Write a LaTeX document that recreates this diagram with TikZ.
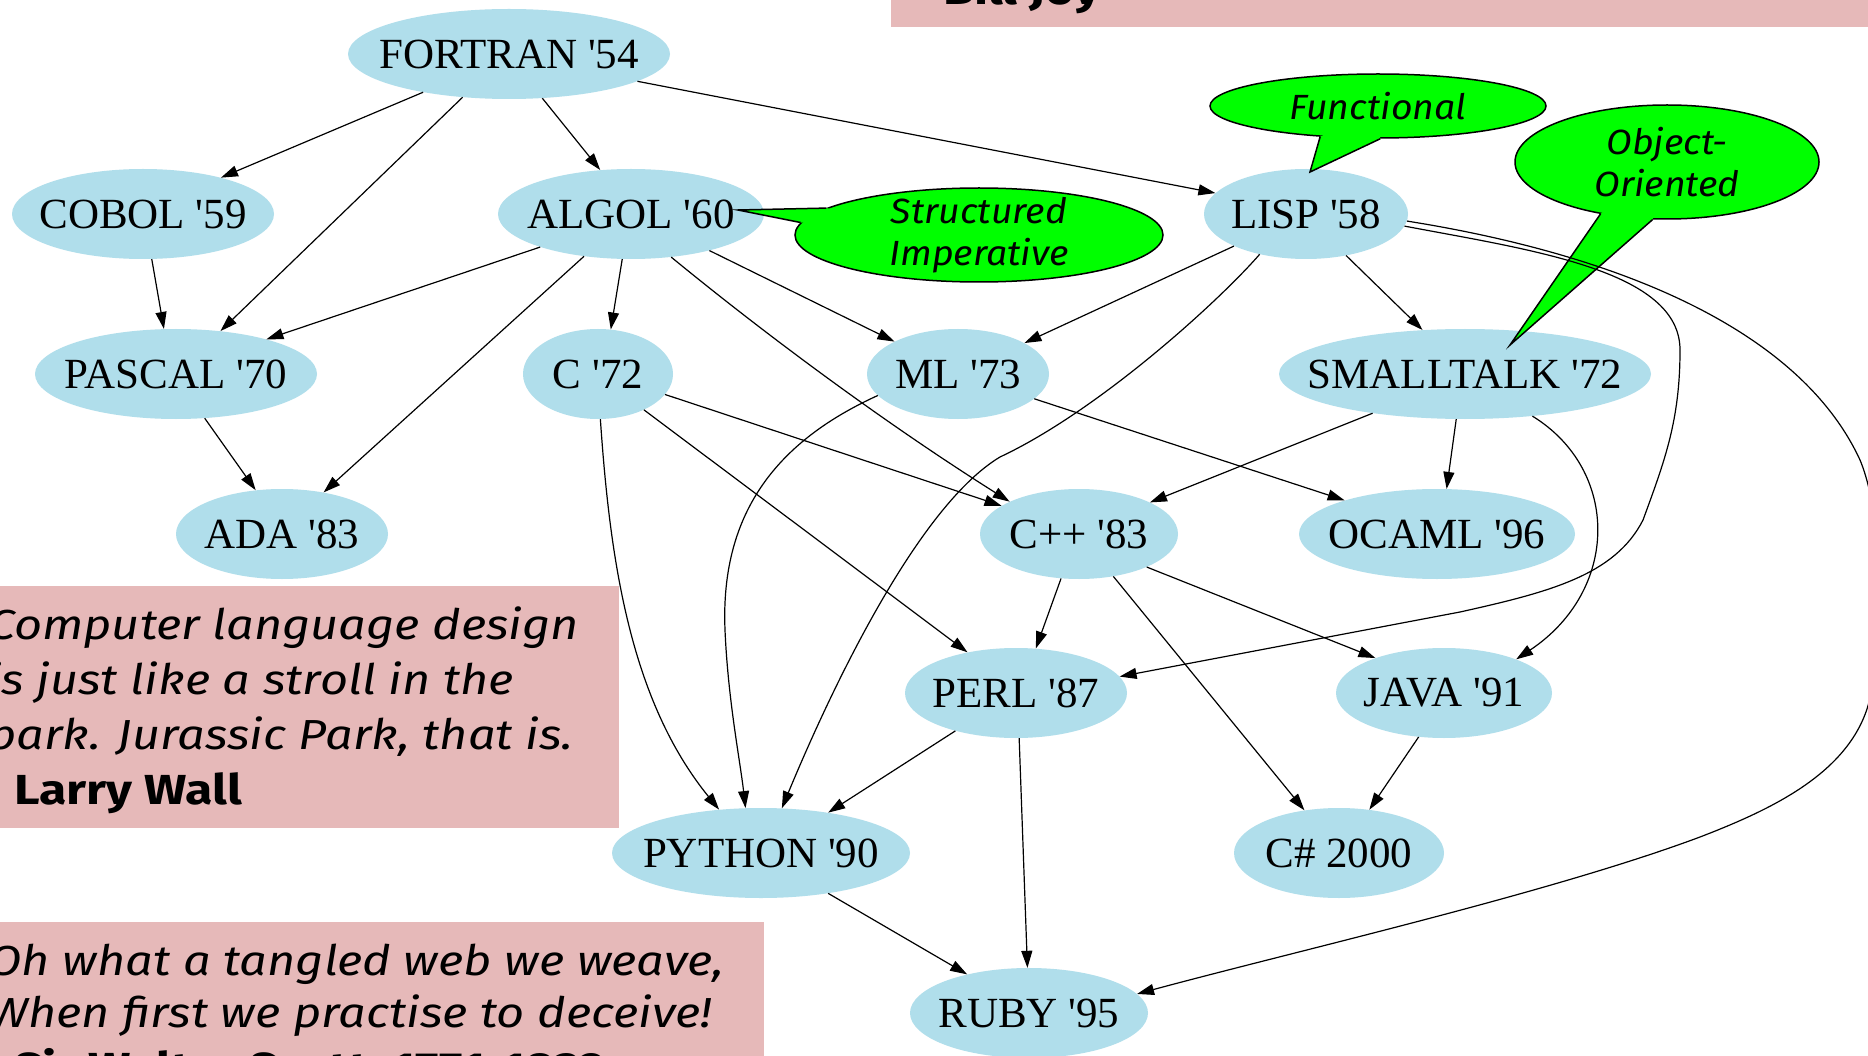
\documentclass[tikz,border=0pt]{standalone}
\usepackage{fontspec}
\setmainfont{Liberation Serif}
\newfontfamily\qfont{Fira Sans}[FakeStretch=1.16]
\newfontfamily\qbfont{Fira Sans}[FakeStretch=1.19]
\newfontfamily\cfont{Fira Sans}[FakeStretch=1.07]
\usetikzlibrary{shapes.geometric,arrows.meta,calc}
\definecolor{nodeblue}{RGB}{176,222,235}
\definecolor{quotepink}{RGB}{230,185,185}
\definecolor{callgreen}{RGB}{0,255,0}
\newcommand{\ap}{\textquotesingle}
\begin{document}
\begin{tikzpicture}[x=1pt,y=-1pt,
 lang/.style={ellipse, fill=nodeblue, inner sep=0pt, minimum height=90pt},
 langtext/.style={inner sep=0pt, font=\fontsize{43}{48}\selectfont},
 edge/.style={line width=1.2pt, -{Triangle[length=17pt,width=11pt]}},
 callout/.style={ellipse, draw=black, line width=1.5pt, fill=callgreen, inner sep=0pt},
 callouttext/.style={inner sep=0pt, align=center, font=\cfont\itshape\fontsize{35}{42}\selectfont},
 pointer/.style={line width=1.5pt, line join=miter},
 quote/.style={anchor=base west, inner sep=0pt, font=\qfont\itshape\fontsize{42}{50}\selectfont},
 quotebold/.style={anchor=base west, inner sep=0pt, font=\qbfont\bfseries\fontsize{42}{50}\selectfont}]

\clip (0,0) rectangle (1868,1056);
\fill[white] (0,0) rectangle (1868,1056);

% quote boxes
\fill[quotepink] (891,-10) rectangle (1878,27);
\node[quotebold] (joy) at (943,5) {Bill Joy};
\fill[quotepink] (-10,586) rectangle (619,828);
\node[quote] (q1) at (-12,639) {Computer language design};
\node[quote] (q2) at (-12,694) {is just like a stroll in the};
\node[quote] (q3) at (-12,749) {park. Jurassic Park, that is.};
\node[quotebold] (q4) at (14,804) {Larry Wall};
\fill[quotepink] (-10,922) rectangle (764,1066);
\node[quote] (s1) at (-12,975) {Oh what a tangled web we weave,};
\node[quote] (s2) at (-12,1027) {When first we practise to deceive!};
\node[quotebold] (s3) at (14,1082) {Sir Walter Scott, 1771-1832};

% language nodes
\node[lang, minimum width=322pt, label={[langtext]center:FORTRAN \ap54}] (fortran) at (509,54) {};
\node[lang, minimum width=262pt, label={[langtext]center:COBOL \ap59}] (cobol) at (143,214) {};
\node[lang, minimum width=266pt, label={[langtext]center:ALGOL \ap60}] (algol) at (631,214) {};
\node[lang, minimum width=204pt, label={[langtext]center:LISP \ap58}] (lisp) at (1306,214) {};
\node[lang, minimum width=282pt, label={[langtext]center:PASCAL \ap70}] (pascal) at (176,374) {};
\node[lang, minimum width=150pt, label={[langtext]center:C \ap72}] (c72) at (598,374) {};
\node[lang, minimum width=182pt, label={[langtext]center:ML \ap73}] (ml) at (958,374) {};
\node[lang, minimum width=372pt, label={[langtext]center:SMALLTALK \ap72}] (smalltalk) at (1465,374) {};
\node[lang, minimum width=212pt, label={[langtext]center:ADA \ap83}] (ada) at (282,534) {};
\node[lang, minimum width=198pt, label={[langtext]center:C++ \ap83}] (cpp) at (1079,534) {};
\node[lang, minimum width=276pt, label={[langtext]center:OCAML \ap96}] (ocaml) at (1437,534) {};
\node[lang, minimum width=222pt, label={[langtext]center:PERL \ap87}] (perl) at (1016,693) {};
\node[lang, minimum width=216pt, label={[langtext]center:JAVA \ap91}] (java) at (1444,693) {};
\node[lang, minimum width=298pt, label={[langtext]center:PYTHON \ap90}] (python) at (761,853) {};
\node[lang, minimum width=210pt, label={[langtext]center:C\# 2000}] (csharp) at (1339,853) {};
\node[lang, minimum width=238pt, label={[langtext]center:RUBY \ap95}] (ruby) at (1029,1013) {};

% callouts
\node[callout, minimum width=368pt, minimum height=94pt] (structured) at (979,235) {};
\coordinate (sitip) at (738,210);
\fill[callgreen] (structured.170) -- (sitip) -- (structured.176) -- ($(structured.176)!0.08!(structured.center)$) -- ($(structured.170)!0.08!(structured.center)$) -- cycle;
\draw[pointer] (structured.170) -- (sitip) -- (structured.176);
\node[callouttext] (structuredtext) at (structured.center) {Structured\\Imperative};

\node[callout, minimum width=336pt, minimum height=64pt] (functional) at (1378,106) {};
\coordinate (futip) at (1310,172);
\fill[callgreen] (functional.208) -- (futip) -- (functional.274) -- ($(functional.274)!0.12!(functional.center)$) -- ($(functional.208)!0.12!(functional.center)$) -- cycle;
\draw[pointer] (functional.208) -- (futip) -- (functional.274);
\node[callouttext] (functionaltext) at (functional.center) {Functional};

\node[callout, minimum width=304pt, minimum height=114pt] (objoriented) at (1667,162) {};
\coordinate (ootip) at (1510,345);
\fill[callgreen] (objoriented.218) -- (ootip) -- (objoriented.256) -- ($(objoriented.256)!0.08!(objoriented.center)$) -- ($(objoriented.218)!0.08!(objoriented.center)$) -- cycle;
\draw[pointer] (objoriented.218) -- (ootip) -- (objoriented.256);
\node[callouttext] (objorientedtext) at (objoriented.center) {Object-\\Oriented};

% edges
\draw[edge] (fortran.204) -- (cobol.25);
\draw[edge] (fortran.223) -- (pascal.44);
\draw[edge] (fortran.307) -- (algol.125);
\draw[edge] (fortran.348) -- (lisp.167);
\draw[edge] (cobol.281) -- (pascal.105);
\draw[edge] (algol.200) -- (pascal.21);
\draw[edge] (algol.222) -- (ada.45);
\draw[edge] (algol.259) -- (c72.74);
\draw[edge] (algol.313) .. controls (760,330) and (880,420) .. (cpp.155);
\draw[edge] (algol.335) -- (ml.153);
\draw[edge] (pascal.303) -- (ada.121);
\draw[edge] (lisp.204) -- (ml.25);
\draw[edge] (lisp.314) -- (smalltalk.134);
\draw[edge] (lisp.221) .. controls (1220,300) and (1100,410) .. (1000,457) .. controls (920,505) and (835,680) .. (python.65);
\draw[edge] (lisp.353) .. controls (1530,250) and (1680,270) .. (1680,350) .. controls (1680,420) and (1665,460) .. (1643,520) .. controls (1615,575) and (1550,592) .. (1460,612) -- (perl.9);
\draw[edge] (lisp.356) .. controls (1620,255) and (1800,330) .. (1860,460) .. controls (1885,520) and (1885,650) .. (1867,709) .. controls (1845,775) and (1770,810) .. (1700,837) .. controls (1550,893) and (1300,950) .. (ruby.10);
\draw[edge] (c72.343) -- (cpp.160);
\draw[edge] (c72.322) -- (perl.140);
\draw[edge] (c72.273) .. controls (610,560) and (630,700) .. (python.134);
\draw[edge] (ml.195) .. controls (780,440) and (720,510) .. (725,630) .. controls (728,700) and (740,760) .. (python.109);
\draw[edge] (ml.342) -- (ocaml.160);
\draw[edge] (smalltalk.203) -- (cpp.24);
\draw[edge] (smalltalk.259) -- (ocaml.78);
\draw[edge] (smalltalk.328) .. controls (1620,470) and (1620,590) .. (java.25);
\draw[edge] (cpp.248) -- (perl.66);
\draw[edge] (cpp.334) -- (java.153);
\draw[edge] (cpp.309) -- (csharp.129);
\draw[edge] (perl.212) -- (python.31);
\draw[edge] (perl.274) -- (ruby.92);
\draw[edge] (java.240) -- (csharp.55);
\draw[edge] (python.329) -- (ruby.148);
\end{tikzpicture}
\end{document}
